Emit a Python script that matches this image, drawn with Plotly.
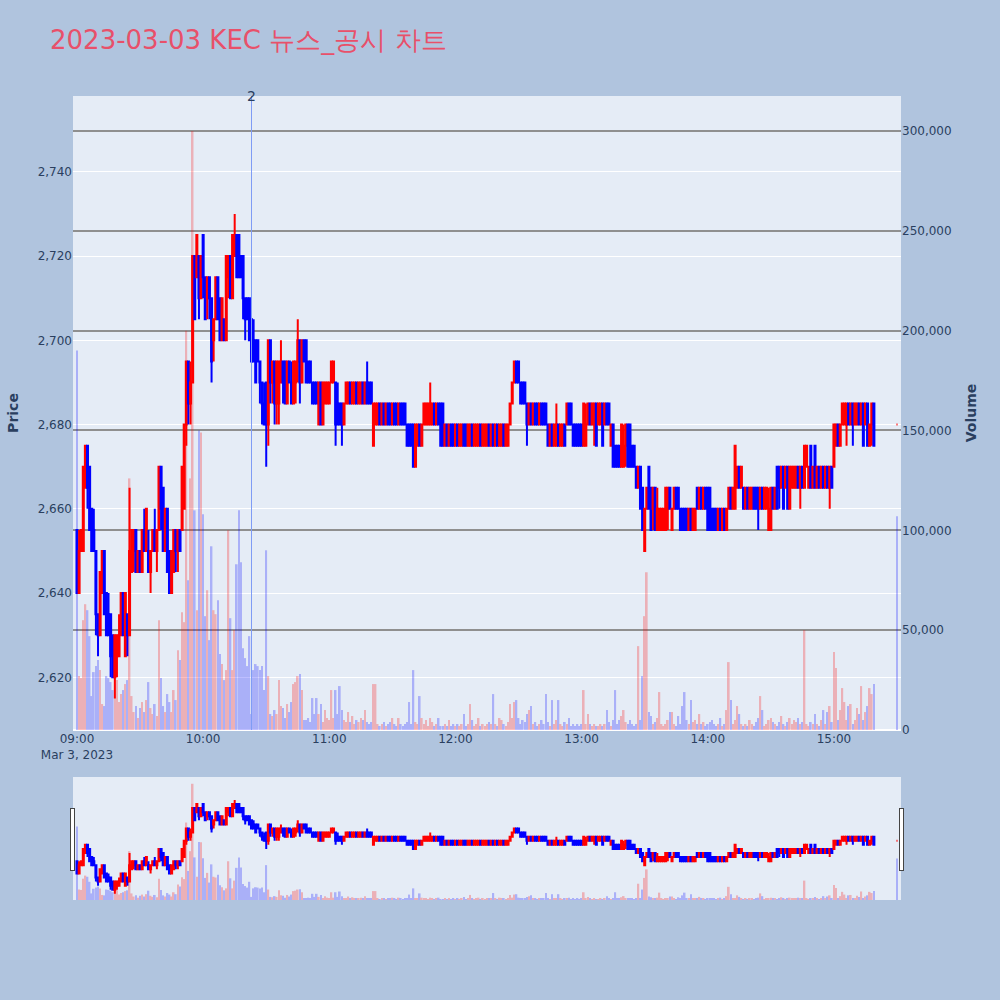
import pandas as pd
import plotly.graph_objects as go
from plotly.subplots import make_subplots

# ---- data: 1-minute candles, 09:00-15:19 plus closing auction 15:30 ----
minute_times = [t.strftime("%Y-%m-%d %H:%M") for t in pd.date_range("2023-03-03 09:00", periods=380, freq="min")]
times = minute_times + ["2023-03-03 15:30"]

opens = [
    2655,2640,2650,2650,2665,2675,2670,2660,2655,2650,
    2635,2630,2640,2650,2640,2635,2635,2630,2620,2625,
    2625,2630,2640,2625,2635,2630,2645,2650,2655,2645,
    2650,2645,2655,2650,2650,2645,2650,2655,2650,2655,
    2670,2665,2650,2660,2650,2640,2645,2655,2650,2655,
    2655,2660,2680,2695,2685,2690,2720,2715,2720,2710,
    2725,2715,2710,2715,2710,2700,2705,2715,2710,2700,
    2705,2700,2715,2720,2710,2720,2725,2725,2720,2720,
    2710,2710,2710,2705,2700,2700,2700,2695,2690,2685,
    2690,2680,2700,2690,2695,2685,2685,2690,2695,2695,
    2685,2695,2690,2685,2690,2695,2700,2690,2700,2700,
    2695,2695,2690,2690,2690,2680,2690,2680,2685,2685,
    2685,2690,2690,2690,2685,2685,2685,2680,2685,2685,
    2690,2685,2685,2690,2685,2685,2690,2685,2690,2690,
    2690,2675,2680,2680,2685,2680,2685,2680,2685,2685,
    2680,2685,2685,2680,2685,2685,2685,2680,2680,2680,
    2680,2670,2675,2680,2675,2680,2680,2680,2680,2680,
    2685,2680,2685,2685,2685,2675,2680,2675,2680,2680,
    2675,2680,2675,2675,2680,2680,2675,2675,2680,2675,
    2675,2675,2680,2675,2675,2675,2680,2675,2680,2675,
    2680,2675,2675,2680,2675,2675,2680,2685,2690,2695,
    2695,2690,2690,2690,2685,2680,2685,2680,2685,2685,
    2680,2685,2685,2685,2680,2675,2680,2675,2675,2680,
    2675,2675,2680,2680,2685,2685,2680,2680,2680,2680,
    2680,2675,2675,2680,2685,2680,2680,2685,2680,2680,
    2685,2680,2685,2685,2675,2680,2675,2675,2675,2670,
    2670,2675,2680,2680,2675,2675,2670,2665,2670,2665,
    2650,2660,2670,2665,2660,2665,2655,2655,2655,2655,
    2655,2660,2665,2655,2660,2665,2665,2660,2660,2660,
    2660,2655,2660,2655,2655,2665,2660,2665,2660,2665,
    2665,2665,2660,2660,2660,2655,2660,2655,2660,2655,
    2660,2665,2660,2660,2665,2670,2665,2665,2660,2665,
    2660,2660,2665,2665,2665,2660,2665,2660,2660,2655,
    2655,2665,2660,2670,2670,2665,2670,2665,2670,2660,
    2665,2665,2665,2670,2665,2670,2665,2670,2665,2675,
    2665,2675,2665,2670,2665,2670,2665,2670,2665,2670,
    2670,2675,2680,2675,2680,2680,2680,2685,2680,2685,
    2680,2680,2685,2680,2685,2680,2685,2675,2680,2685,
    2680,
]
highs = [
    2655,2655,2655,2670,2675,2675,2670,2660,2660,2650,
    2635,2645,2650,2650,2640,2640,2635,2630,2630,2630,
    2635,2640,2640,2640,2635,2665,2655,2655,2655,2650,
    2650,2655,2660,2660,2655,2650,2655,2660,2655,2670,
    2670,2665,2660,2660,2650,2650,2655,2655,2655,2655,
    2670,2680,2695,2695,2695,2720,2720,2725,2720,2720,
    2725,2715,2715,2715,2710,2705,2715,2715,2710,2710,
    2705,2720,2720,2720,2725,2730,2725,2725,2720,2720,
    2710,2710,2710,2705,2705,2700,2700,2695,2690,2690,
    2690,2700,2700,2695,2695,2695,2695,2700,2695,2695,
    2695,2695,2695,2695,2695,2705,2700,2700,2700,2700,
    2695,2695,2690,2690,2690,2690,2690,2690,2690,2690,
    2690,2695,2695,2690,2690,2685,2685,2685,2690,2690,
    2690,2690,2690,2690,2690,2690,2690,2690,2695,2690,
    2690,2685,2685,2685,2685,2685,2685,2685,2685,2685,
    2685,2685,2685,2685,2685,2685,2685,2680,2680,2680,
    2680,2680,2680,2680,2680,2685,2685,2685,2690,2685,
    2685,2685,2685,2685,2685,2680,2680,2680,2680,2680,
    2680,2680,2680,2680,2680,2680,2680,2680,2680,2680,
    2680,2680,2680,2680,2680,2680,2680,2680,2680,2680,
    2680,2680,2680,2680,2680,2680,2685,2690,2695,2695,
    2695,2690,2690,2690,2685,2685,2685,2685,2685,2685,
    2685,2685,2685,2685,2680,2680,2680,2680,2685,2680,
    2680,2680,2680,2685,2685,2685,2680,2680,2680,2680,
    2680,2685,2685,2685,2685,2685,2685,2685,2685,2685,
    2685,2685,2685,2685,2680,2680,2675,2675,2675,2680,
    2680,2680,2680,2680,2675,2675,2670,2670,2670,2665,
    2660,2665,2670,2665,2665,2665,2665,2660,2660,2660,
    2665,2665,2665,2660,2665,2665,2665,2660,2660,2660,
    2660,2660,2660,2660,2660,2665,2665,2665,2665,2665,
    2665,2665,2660,2660,2660,2660,2660,2660,2660,2660,
    2665,2665,2665,2675,2670,2670,2670,2665,2665,2665,
    2665,2665,2665,2665,2665,2665,2665,2665,2665,2665,
    2665,2665,2665,2670,2670,2670,2670,2670,2670,2670,
    2670,2670,2670,2670,2670,2670,2675,2675,2670,2675,
    2670,2675,2670,2670,2670,2670,2670,2670,2670,2670,
    2680,2680,2680,2680,2685,2685,2685,2685,2685,2685,
    2685,2685,2685,2685,2685,2685,2685,2680,2685,2685,
    2680,
]
lows = [
    2640,2640,2650,2650,2665,2660,2655,2650,2650,2630,
    2625,2630,2640,2635,2630,2630,2620,2620,2615,2620,
    2625,2630,2630,2625,2625,2630,2645,2645,2645,2645,
    2645,2645,2650,2650,2645,2640,2650,2650,2645,2655,
    2655,2650,2650,2645,2640,2640,2645,2645,2645,2650,
    2655,2660,2675,2680,2680,2690,2705,2715,2705,2710,
    2710,2705,2705,2705,2690,2695,2705,2705,2700,2700,
    2700,2700,2710,2710,2710,2720,2715,2715,2715,2705,
    2700,2705,2700,2695,2695,2690,2695,2685,2680,2680,
    2670,2675,2685,2685,2680,2680,2680,2690,2685,2685,
    2685,2690,2685,2685,2685,2690,2685,2690,2695,2690,
    2690,2690,2685,2685,2685,2680,2680,2680,2685,2685,
    2685,2690,2690,2675,2680,2680,2675,2680,2685,2685,
    2685,2685,2685,2685,2685,2685,2685,2685,2685,2685,
    2685,2675,2680,2680,2680,2680,2680,2680,2680,2680,
    2680,2680,2680,2680,2680,2680,2680,2675,2675,2675,
    2670,2670,2675,2675,2675,2680,2680,2680,2680,2680,
    2680,2680,2680,2675,2675,2675,2675,2675,2675,2675,
    2675,2675,2675,2675,2675,2675,2675,2675,2675,2675,
    2675,2675,2675,2675,2675,2675,2675,2675,2675,2675,
    2675,2675,2675,2675,2675,2675,2680,2685,2690,2690,
    2690,2685,2685,2685,2675,2680,2680,2680,2680,2680,
    2680,2680,2680,2680,2675,2675,2675,2675,2675,2675,
    2675,2675,2675,2680,2680,2680,2675,2675,2675,2675,
    2675,2675,2675,2680,2680,2680,2675,2675,2680,2680,
    2675,2680,2680,2680,2675,2670,2670,2670,2670,2670,
    2670,2670,2670,2670,2670,2670,2665,2665,2660,2655,
    2650,2660,2660,2655,2655,2655,2655,2655,2655,2655,
    2655,2655,2660,2655,2660,2660,2660,2655,2655,2655,
    2655,2655,2655,2655,2655,2660,2660,2660,2660,2660,
    2655,2655,2655,2655,2655,2655,2655,2655,2655,2655,
    2660,2660,2660,2660,2665,2665,2665,2660,2660,2660,
    2660,2660,2660,2660,2655,2660,2660,2660,2660,2655,
    2655,2660,2660,2660,2660,2665,2660,2665,2660,2660,
    2665,2665,2665,2665,2660,2665,2665,2670,2665,2665,
    2665,2665,2665,2665,2665,2665,2665,2665,2660,2665,
    2670,2675,2675,2675,2680,2680,2675,2680,2680,2675,
    2680,2680,2680,2680,2675,2680,2675,2675,2675,2675,
    2680,
]
closes = [
    2640,2650,2655,2670,2675,2665,2655,2650,2650,2635,
    2630,2645,2650,2635,2630,2630,2625,2620,2630,2630,
    2630,2640,2630,2640,2630,2650,2655,2655,2645,2650,
    2645,2655,2650,2660,2645,2650,2655,2650,2655,2670,
    2660,2650,2660,2645,2640,2650,2655,2650,2655,2650,
    2670,2680,2695,2685,2690,2720,2705,2725,2710,2720,
    2715,2705,2715,2710,2695,2705,2715,2705,2700,2710,
    2700,2720,2720,2710,2725,2725,2715,2715,2715,2710,
    2705,2705,2700,2695,2695,2690,2695,2690,2685,2680,
    2680,2700,2690,2695,2685,2695,2695,2695,2690,2685,
    2695,2690,2685,2695,2695,2700,2690,2700,2695,2690,
    2690,2690,2685,2685,2685,2690,2680,2690,2690,2690,
    2690,2695,2695,2680,2680,2680,2680,2685,2690,2690,
    2685,2690,2690,2685,2690,2690,2685,2690,2685,2685,
    2685,2685,2685,2685,2680,2685,2680,2685,2680,2680,
    2685,2680,2680,2685,2680,2680,2680,2675,2675,2675,
    2670,2680,2680,2675,2680,2685,2685,2685,2685,2685,
    2680,2685,2680,2675,2675,2680,2675,2680,2675,2675,
    2680,2675,2680,2680,2675,2675,2680,2680,2675,2680,
    2680,2680,2675,2680,2680,2680,2675,2680,2675,2680,
    2675,2680,2680,2675,2680,2680,2685,2690,2695,2690,
    2690,2685,2685,2685,2680,2685,2680,2685,2680,2680,
    2685,2680,2680,2680,2675,2680,2675,2680,2680,2675,
    2680,2680,2675,2685,2680,2680,2675,2675,2675,2675,
    2675,2685,2680,2685,2680,2685,2685,2675,2685,2685,
    2675,2685,2680,2680,2680,2670,2670,2670,2670,2680,
    2675,2680,2670,2670,2670,2670,2665,2670,2660,2655,
    2660,2665,2660,2655,2665,2655,2660,2660,2660,2660,
    2665,2665,2660,2660,2665,2660,2660,2655,2655,2655,
    2655,2660,2655,2660,2660,2660,2665,2660,2665,2660,
    2655,2655,2655,2655,2655,2660,2655,2660,2655,2660,
    2665,2660,2665,2675,2670,2665,2670,2660,2665,2660,
    2665,2665,2660,2660,2660,2665,2660,2665,2665,2660,
    2665,2660,2665,2660,2665,2670,2660,2670,2660,2670,
    2670,2670,2670,2665,2670,2665,2675,2675,2670,2665,
    2670,2665,2670,2665,2670,2665,2670,2665,2670,2665,
    2680,2680,2675,2680,2685,2685,2685,2680,2685,2680,
    2685,2685,2680,2685,2675,2685,2675,2680,2685,2675,
    2680,
]
volumes = [
    190000,27000,26000,55000,63000,60000,47000,17000,29000,32000,
    35000,30000,13000,12000,27000,26000,24000,20000,27000,25000,
    14000,18000,20000,23000,25000,126000,17000,9000,12000,6000,
    11000,14000,9000,15000,24000,11000,8000,13000,7000,55000,
    26000,12000,9000,18000,14000,9000,20000,15000,40000,35000,
    59000,54000,200000,75000,126000,300000,110000,60000,150000,149000,
    108000,57000,70000,45000,92000,60000,58000,65000,38000,33000,
    25000,30000,100000,56000,30000,50000,83000,110000,84000,41000,
    36000,32000,47000,8000,30000,33000,32000,30000,32000,20000,
    90000,27000,8000,7000,10000,8000,25000,12000,11000,6000,
    13000,9000,14000,23000,24000,27000,28000,20000,5000,5000,
    6000,4000,16000,8000,16000,8000,13000,4000,10000,6000,
    5000,20000,6000,20000,8000,22000,10000,5000,4000,9000,
    4000,7000,3000,5000,4000,6000,5000,10000,4000,3000,
    4000,23000,23000,3000,2000,3000,4000,2000,3000,4000,
    6000,3000,2000,6000,3000,2000,3000,4000,14000,3000,
    30000,4000,3000,17000,6000,3000,5000,2000,6000,4000,
    2000,3000,6000,2000,2000,3000,2000,5000,2000,3000,
    2000,3000,2000,3000,8000,2000,3000,13000,5000,2000,
    3000,6000,2000,3000,2000,3000,4000,3000,18000,3000,
    2000,6000,5000,3000,2000,4000,13000,6000,14000,15000,
    6000,3000,5000,4000,8000,10000,12000,3000,4000,2000,
    3000,5000,3000,18000,4000,2000,15000,3000,5000,15000,
    3000,2000,4000,3000,6000,2000,3000,2000,3000,2000,
    3000,20000,3000,8000,3000,2000,3000,2000,2000,3000,
    2000,3000,10000,4000,2000,5000,20000,3000,5000,7000,
    10000,4000,3000,5000,3000,2000,3000,42000,5000,27000,
    57000,79000,9000,7000,3000,4000,6000,19000,3000,2000,
    3000,5000,9000,9000,3000,2000,7000,3000,12000,19000,
    5000,3000,15000,4000,5000,3000,8000,3000,4000,2000,
    3000,4000,5000,3000,2000,3000,6000,2000,3000,10000,
    34000,15000,3000,5000,12000,8000,3000,2000,3000,2000,
    5000,3000,2000,4000,6000,17000,10000,2000,3000,5000,
    6000,4000,3000,2000,4000,7000,3000,2000,4000,6000,
    3000,5000,4000,6000,3000,4000,50000,3000,2000,4000,
    3000,8000,3000,2000,5000,10000,3000,9000,12000,4000,
    39000,31000,5000,10000,21000,14000,5000,12000,13000,3000,
    5000,11000,8000,22000,5000,9000,12000,21000,18000,23000,
    107000,
]
news_times = ["2023-03-03 10:23"]
news_labels = ["2"]

title_text = "2023-03-03 KEC 뉴스_공시 차트"

assert len(times) == len(opens) == len(highs) == len(lows) == len(closes) == len(volumes), (
    len(times), len(opens), len(highs), len(lows), len(closes), len(volumes))

vol_colors = ["red" if c > o else "blue" for o, c in zip(opens, closes)]

fig = make_subplots(specs=[[{"secondary_y": True}]])
fig.add_trace(
    go.Candlestick(
        x=times, open=opens, high=highs, low=lows, close=closes,
        increasing=dict(line=dict(color="red", width=2), fillcolor="red"),
        decreasing=dict(line=dict(color="blue", width=2), fillcolor="blue"),
        name="Price", showlegend=False,
    ),
    secondary_y=False,
)
fig.add_trace(
    go.Bar(x=times, y=volumes, marker=dict(color=vol_colors, line=dict(width=0)),
           opacity=0.25, name="Volume", showlegend=False),
    secondary_y=True,
)

for t, lab in zip(news_times, news_labels):
    fig.add_shape(type="line", xref="x", yref="paper", x0=t, x1=t, y0=0, y1=1,
                  layer="above", line=dict(color="#7f9cf5", width=1))
    fig.add_annotation(x=t, xref="x", y=1, yref="paper", text=lab, showarrow=False,
                       yanchor="middle", font=dict(size=14, color="#2a3f5f"))

x_range = ["2023-03-03 08:58:06", "2023-03-03 15:31:54"]
fig.update_layout(
    width=1000, height=1000,
    font=dict(family="DejaVu Sans, Verdana, sans-serif"),
    paper_bgcolor="#B0C4DE",
    plot_bgcolor="#E5ECF6",
    title=dict(text=title_text, x=0.05, y=0.96, yanchor="middle",
               font=dict(size=26, color="#E8506A")),
    margin=dict(l=73, r=99, t=96, b=100),
    showlegend=False,
    xaxis=dict(domain=[0, 1], range=x_range, showgrid=False, automargin=False,
               rangeslider=dict(visible=True, range=x_range, thickness=0.153)),
)
fig.update_yaxes(title_text="<b>Price</b>", tickformat=",", range=[2607.5, 2758], dtick=20,
                 gridcolor="white", automargin=False, secondary_y=False)
fig.update_yaxes(title_text="<b>Volume</b>", tickformat=",", range=[0, 317500], dtick=50000,
                 gridcolor="#8f8f8f", gridwidth=1.5, showgrid=True, automargin=False,
                 secondary_y=True)

fig.write_html("out.html", config={"displayModeBar": False},
               post_script="document.body.style.margin='0';")
